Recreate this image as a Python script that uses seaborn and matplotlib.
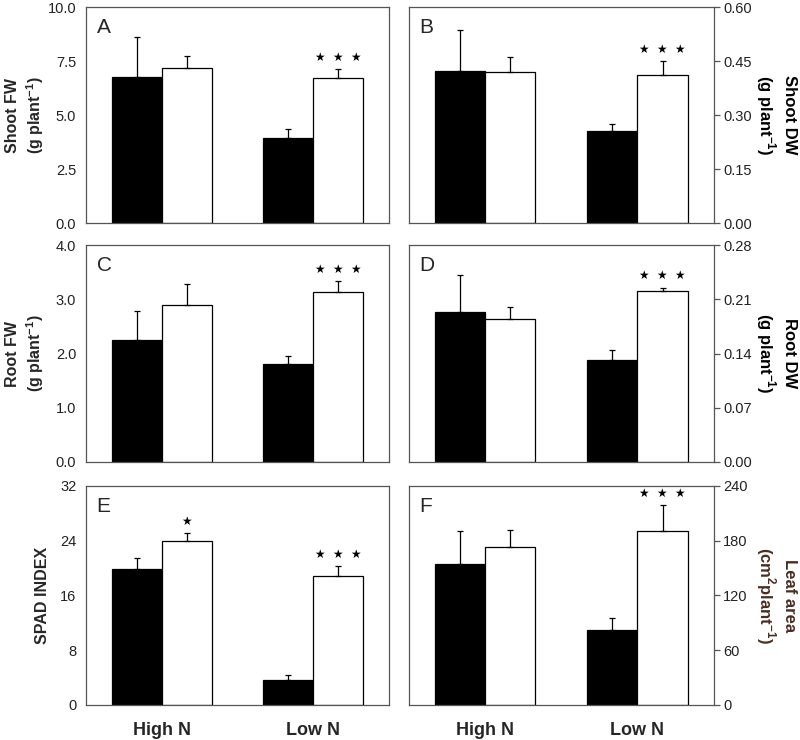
import numpy as np
import pandas as pd
import matplotlib
matplotlib.use("Agg")
import matplotlib.pyplot as plt
import seaborn as sns

# ---- data ----
groups = ['High N', 'Low N']
series = ['Filled', 'Open']

shoot_fw_filled = [6.76, 3.94]
shoot_fw_open = [7.18, 6.71]
shoot_fw_err_filled = [1.84, 0.41]
shoot_fw_err_open = [0.55, 0.42]

shoot_dw_filled = [0.423, 0.256]
shoot_dw_open = [0.420, 0.411]
shoot_dw_err_filled = [0.114, 0.019]
shoot_dw_err_open = [0.042, 0.038]

root_fw_filled = [2.25, 1.80]
root_fw_open = [2.89, 3.13]
root_fw_err_filled = [0.53, 0.15]
root_fw_err_open = [0.39, 0.21]

root_dw_filled = [0.194, 0.132]
root_dw_open = [0.185, 0.221]
root_dw_err_filled = [0.048, 0.012]
root_dw_err_open = [0.015, 0.004]

spad_filled = [19.9, 3.7]
spad_open = [24.0, 18.9]
spad_err_filled = [1.6, 0.7]
spad_err_open = [1.1, 1.4]

leaf_filled = [155.0, 82.0]
leaf_open = [173.0, 191.0]
leaf_err_filled = [36.0, 13.0]
leaf_err_open = [19.0, 28.0]

# significance marks above the open bars (High N, Low N)
stars_a = ['', '***']
stars_b = ['', '***']
stars_c = ['', '***']
stars_d = ['', '***']
stars_e = ['*', '***']
stars_f = ['', '***']

panels = [
    dict(letter='A', filled=shoot_fw_filled, open_=shoot_fw_open,
         ef=shoot_fw_err_filled, eo=shoot_fw_err_open, stars=stars_a,
         ylim=10.0, ticks=[0, 2.5, 5.0, 7.5, 10.0], fmt='{:.1f}',
         ylabel='Shoot FW\n(g plant$^{\\mathbf{-1}}$)', side='left'),
    dict(letter='B', filled=shoot_dw_filled, open_=shoot_dw_open,
         ef=shoot_dw_err_filled, eo=shoot_dw_err_open, stars=stars_b,
         ylim=0.60, ticks=[0, 0.15, 0.30, 0.45, 0.60], fmt='{:.2f}',
         ylabel='Shoot DW\n(g plant$^{\\mathbf{-1}}$)', side='right'),
    dict(letter='C', filled=root_fw_filled, open_=root_fw_open,
         ef=root_fw_err_filled, eo=root_fw_err_open, stars=stars_c,
         ylim=4.0, ticks=[0, 1.0, 2.0, 3.0, 4.0], fmt='{:.1f}',
         ylabel='Root FW\n(g plant$^{\\mathbf{-1}}$)', side='left'),
    dict(letter='D', filled=root_dw_filled, open_=root_dw_open,
         ef=root_dw_err_filled, eo=root_dw_err_open, stars=stars_d,
         ylim=0.28, ticks=[0, 0.07, 0.14, 0.21, 0.28], fmt='{:.2f}',
         ylabel='Root DW\n(g plant$^{\\mathbf{-1}}$)', side='right'),
    dict(letter='E', filled=spad_filled, open_=spad_open,
         ef=spad_err_filled, eo=spad_err_open, stars=stars_e,
         ylim=32, ticks=[0, 8, 16, 24, 32], fmt='{:.0f}',
         ylabel='SPAD INDEX', side='left'),
    dict(letter='F', filled=leaf_filled, open_=leaf_open,
         ef=leaf_err_filled, eo=leaf_err_open, stars=stars_f,
         ylim=240, ticks=[0, 60, 120, 180, 240], fmt='{:.0f}',
         ylabel='Leaf area\n(cm$^{\\mathbf{2}}$plant$^{\\mathbf{-1}}$)', side='right'),
]

sns.set_theme(style='white')
plt.rcParams['font.family'] = ['Liberation Sans', 'DejaVu Sans']
plt.rcParams['mathtext.fontset'] = 'custom'
plt.rcParams['mathtext.rm'] = 'Liberation Sans'
plt.rcParams['mathtext.bf'] = 'Liberation Sans:bold'

fig = plt.figure(figsize=(8, 7.4), dpi=100)

col_x = [0.1075, 0.511]
col_w = [0.379, 0.381]
row_y = [0.6986, 0.3757, 0.0473]
row_h = [0.2919, 0.293, 0.296]

spine_col = '#555555'

for i, p in enumerate(panels):
    r, c = divmod(i, 2)
    ax = fig.add_axes([col_x[c], row_y[r], col_w[c], row_h[r]])

    df = pd.DataFrame({
        'group': groups * 2,
        'series': [series[0]] * 2 + [series[1]] * 2,
        'value': list(p['filled']) + list(p['open_']),
        'err': list(p['ef']) + list(p['eo']),
    })
    sns.barplot(data=df, x='group', y='value', hue='series', order=groups,
                hue_order=series, palette=['black', 'white'], width=0.66,
                edgecolor='black', linewidth=0.9, errorbar=None,
                legend=False, ax=ax)

    # upper error bars, placed at the centre of each drawn bar
    bars = ax.patches
    for bar, (_, row) in zip(bars, df.iterrows()):
        xc = bar.get_x() + bar.get_width() / 2
        ax.errorbar(xc, row['value'], yerr=[[0], [row['err']]], fmt='none',
                    ecolor='black', elinewidth=0.9, capsize=2.5, capthick=0.9)

    open_bars = bars[2:4]
    for bar, (_, row), s in zip(open_bars, df.iloc[2:4].iterrows(), p['stars']):
        if not s:
            continue
        xc = bar.get_x() + bar.get_width() / 2
        txt = '  '.join('\u2605' * len(s))
        ax.text(xc, row['value'] + row['err'] + p['ylim'] * 0.055, txt,
                ha='center', va='center', fontsize=8.5,
                family=['DejaVu Sans'], color='black')

    ax.set_xlim(-0.5, 1.5)
    ax.set_ylim(0, p['ylim'])
    ax.set_yticks(p['ticks'])
    ax.set_yticklabels([p['fmt'].format(t) for t in p['ticks']])
    ax.set_xlabel('')

    for sp in ax.spines.values():
        sp.set_visible(True)
        sp.set_color(spine_col)
        sp.set_linewidth(0.9)

    ax.tick_params(axis='y', direction='out', length=4, width=0.9,
                   color=spine_col, labelsize=10.5, labelcolor='#222222', pad=3)
    ax.tick_params(axis='x', length=0)

    if r == 2:
        ax.set_xticks([0, 1])
        ax.set_xticklabels(groups, fontsize=13, fontweight='bold')
        ax.tick_params(axis='x', pad=12)
    else:
        ax.set_xticklabels([])

    if p['side'] == 'right':
        ax.yaxis.tick_right()
        ax.yaxis.set_label_position('right')
        lab_col = '#4a2e22' if p['letter'] == 'F' else 'black'
        ax.set_ylabel(p['ylabel'], fontsize=12, fontweight='bold',
                      rotation=270, va='center', ha='center', color=lab_col,
                      linespacing=1.25)
        ax.yaxis.set_label_coords(1.204, 0.5)
    else:
        ax.set_ylabel(p['ylabel'], fontsize=11.5, fontweight='bold',
                      va='center', ha='center', linespacing=1.25)
        xl = -0.145 if p['letter'] == 'E' else -0.2
        ax.yaxis.set_label_coords(xl, 0.5)

    ax.text(0.035, 0.95, p['letter'], transform=ax.transAxes, fontsize=15,
            ha='left', va='top')

fig.savefig('out.png', dpi=100)
